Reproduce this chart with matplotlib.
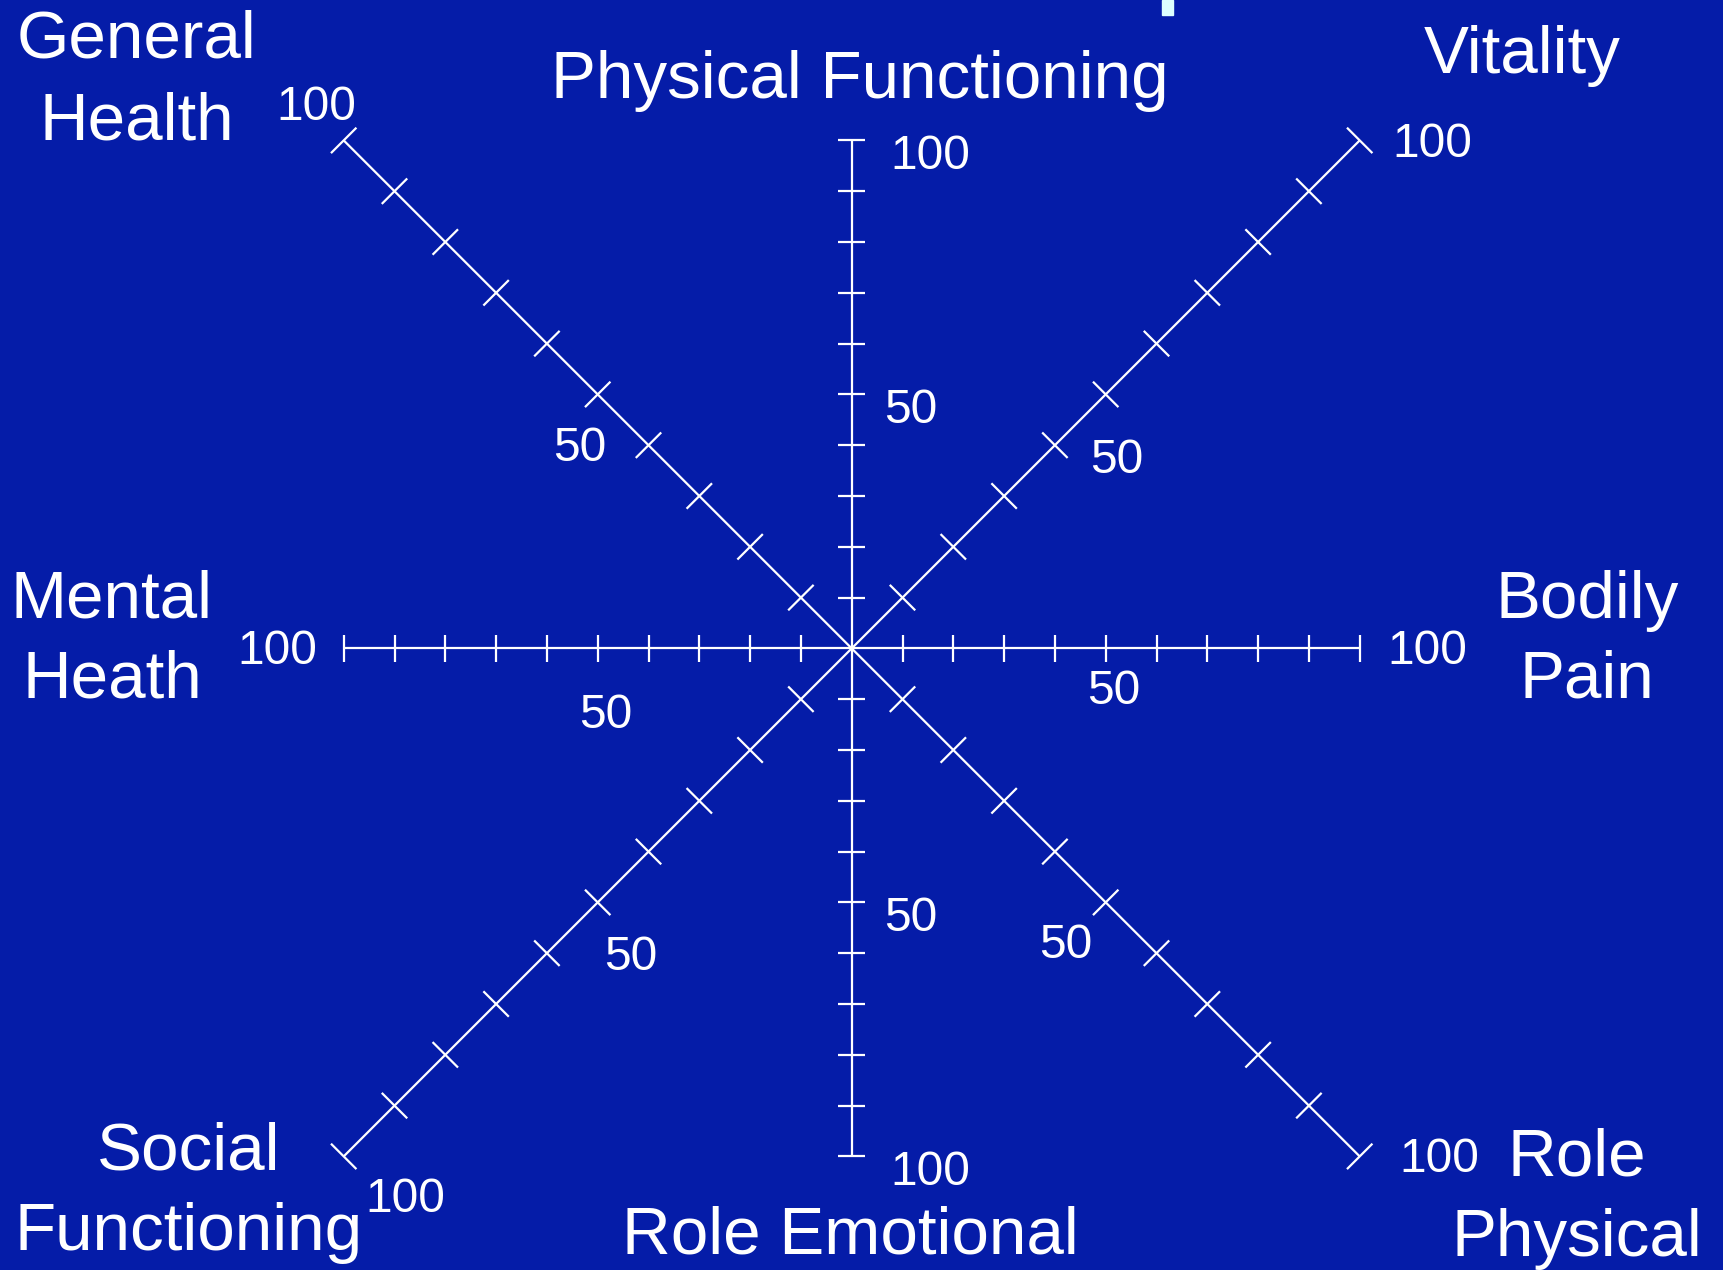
import numpy as np
import matplotlib
matplotlib.use("Agg")
import matplotlib.pyplot as plt
from matplotlib.patches import Rectangle

plt.rcParams['font.family'] = ['Liberation Sans', 'DejaVu Sans']

# ---- data ----
categories = ["Physical Functioning", "Vitality", "Bodily Pain", "Role Physical",
              "Role Emotional", "Social Functioning", "Mental Heath", "General Health"]
# axis direction (score-space components)
directions = [(0, 1), (1, 1), (1, 0), (1, -1), (0, -1), (-1, -1), (-1, 0), (-1, 1)]
tick_values = [10, 20, 30, 40, 50, 60, 70, 80, 90, 100]
labelled_values = [50, 100]

# ---- layout ----
W, H = 1723, 1270
BG = '#051CA8'
FG = 'white'
PX = 5.08            # pixels per score unit
CX, CY = 851.7, 648.4  # centre in pixels from top-left

fig = plt.figure(figsize=(W / 100, H / 100), dpi=100, facecolor=BG)
ax = fig.add_axes([0, 0, 1, 1])
ax.set_facecolor(BG)
ax.set_xlim(-CX / PX, (W - CX) / PX)
ax.set_ylim(-(H - CY) / PX, CY / PX)
ax.axis('off')

lw = 1.6
for (dx, dy) in directions:
    ax.plot([0, 100 * dx], [0, 100 * dy], color=FG, lw=lw, solid_capstyle='butt')
    diag = dx != 0 and dy != 0
    n = np.hypot(dx, dy)
    px_, py_ = -dy / n, dx / n
    half = (18.0 if diag else 13.5) / PX
    for v in tick_values:
        x0, y0 = v * dx, v * dy
        ax.plot([x0 - half * px_, x0 + half * px_], [y0 - half * py_, y0 + half * py_],
                color=FG, lw=lw, solid_capstyle='butt')

# tick label offsets (pixels) for (value 50, value 100)
tick_offsets = {
    "Physical Functioning": [(59, -29), (79, -29)],
    "Role Emotional": [(59, -29), (79, -29)],
    "Bodily Pain": [(8, -56), (68, -16)],
    "Mental Heath": [(8, -80), (-66, -16)],
    "Vitality": [(11, -79), (73, -17)],
    "General Health": [(-18, -67), (-27, 20)],
    "Social Functioning": [(33, -68), (62, -56)],
    "Role Physical": [(-40, -56), (80, -16)],
}
for cat, (dx, dy) in zip(categories, directions):
    for v, off in zip(labelled_values, tick_offsets[cat]):
        ax.annotate(str(v), xy=(v * dx, v * dy), xytext=off, textcoords='offset pixels',
                    ha='center', va='baseline', color=FG, fontsize=34.5)

# category labels: lines with (x centre, baseline) in pixels from top-left
cat_lines = [
    ("General", 137, 57), ("Health", 137, 139),
    ("Physical Functioning", 860, 98),
    ("Vitality", 1522, 73),
    ("Mental", 112, 618), ("Heath", 112, 697),
    ("Bodily", 1587, 618), ("Pain", 1587, 697),
    ("Social", 189, 1170), ("Functioning", 189, 1250),
    ("Role Emotional", 850, 1254),
    ("Role", 1577, 1175), ("Physical", 1577, 1256),
]
for txt, x, y in cat_lines:
    fig.text(x / W, 1 - y / H, txt, ha='center', va='baseline', color=FG, fontsize=48.5)

# fragment of cut-off title at the top edge
fig.patches.append(Rectangle((1162 / W, 1 - 15 / H), 11 / W, 15 / H,
                             transform=fig.transFigure, color='#DDFFFF', zorder=5))

fig.savefig('out.png', dpi=100, facecolor=BG)
